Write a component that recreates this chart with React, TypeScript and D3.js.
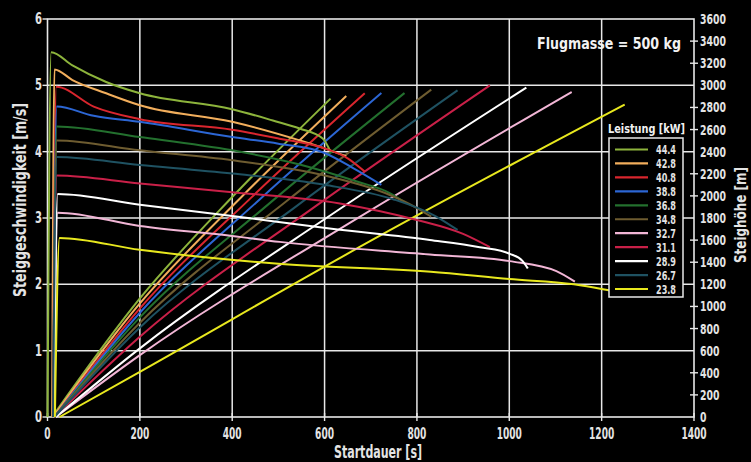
import React, { useEffect } from "react";
import * as d3 from "d3";

// ---- axis ticks ----
const timeTicks = [0, 200, 400, 600, 800, 1000, 1200, 1400];
const climbTicks = [0, 1, 2, 3, 4, 5, 6];
const heightTicks = [0, 200, 400, 600, 800, 1000, 1200, 1400, 1600, 1800, 2000, 2200, 2400, 2600, 2800, 3000, 3200, 3400, 3600];

// ---- legend ----
const legendLabels = ["44.4", "42.8", "40.8", "38.8", "36.8", "34.8", "32.7", "31.1", "28.9", "26.7", "23.8"];
const lineColors = ["#8db43c", "#f2ae5c", "#d9262e", "#2c66d4", "#23702e", "#6e5c30", "#f2b6d6", "#c92048", "#ffffff", "#1f5262", "#e8e81e"];

// ---- climb rate [m/s] vs. time [s] (left axis) ----
const climb444 = [[0, 0], [8, 5.5], [54, 5.3], [127, 5.05], [200, 4.88], [400, 4.64], [488, 4.47], [546, 4.35], [596, 4.2], [613, 4.0]];
const climb428 = [[10, 0], [15, 5.24], [54, 5.08], [127, 4.88], [200, 4.7], [400, 4.45], [546, 4.17], [600, 4.05], [647, 3.93]];
const climb408 = [[12, 0], [19, 4.98], [100, 4.68], [200, 4.49], [400, 4.33], [500, 4.2], [596, 4.06], [650, 3.9], [687, 3.7]];
const climb388 = [[12, 0], [20, 4.68], [100, 4.54], [200, 4.45], [400, 4.22], [500, 4.12], [600, 3.98], [660, 3.76], [723, 3.5]];
const climb368 = [[12, 0], [20, 4.38], [200, 4.22], [400, 4.02], [550, 3.8], [670, 3.55], [740, 3.38], [773, 3.24]];
const climb348 = [[12, 0], [20, 4.17], [200, 4.02], [400, 3.87], [600, 3.64], [740, 3.35], [800, 3.15], [831, 3.02]];
const climb327 = [[14, 0], [22, 3.08], [200, 2.88], [400, 2.73], [503, 2.64], [828, 2.45], [1001, 2.35], [1102, 2.2], [1142, 2.04]];
const climb311 = [[12, 0], [20, 3.64], [200, 3.52], [400, 3.39], [633, 3.22], [800, 2.97], [900, 2.76], [958, 2.56]];
const climb289 = [[14, 0], [22, 3.36], [200, 3.2], [400, 3.03], [611, 2.84], [828, 2.67], [936, 2.56], [1001, 2.46], [1029, 2.35], [1040, 2.24]];
const climb267 = [[12, 0], [20, 3.92], [200, 3.8], [400, 3.67], [600, 3.5], [750, 3.28], [840, 3.03], [888, 2.82]];
const climb238 = [[16, 0], [26, 2.7], [200, 2.52], [500, 2.31], [830, 2.19], [1000, 2.08], [1140, 2.0], [1200, 1.93], [1250, 1.86]];

// ---- climb height [m] vs. time [s] (right axis) ----
const alt444 = [[10, 0], [200, 1072], [400, 1990], [613, 2880]];
const alt428 = [[12, 0], [200, 1027], [420, 1990], [647, 2903]];
const alt408 = [[15, 0], [200, 982], [440, 1980], [687, 2928]];
const alt388 = [[15, 0], [200, 943], [460, 1970], [723, 2930]];
const alt368 = [[15, 0], [200, 901], [480, 1930], [773, 2930]];
const alt348 = [[15, 0], [200, 853], [520, 1960], [831, 2961]];
const alt327 = [[18, 0], [200, 560], [660, 1770], [1135, 2940]];
const alt311 = [[15, 0], [200, 726], [580, 1905], [958, 3000]];
const alt289 = [[18, 0], [200, 621], [620, 1845], [1037, 2979]];
const alt267 = [[15, 0], [200, 810], [540, 1910], [888, 2955]];
const alt238 = [[26, 0], [200, 409], [720, 1640], [1250, 2826]];

const climbSeries = [climb444, climb428, climb408, climb388, climb368, climb348, climb327, climb311, climb289, climb267, climb238];
const altSeries = [alt444, alt428, alt408, alt388, alt368, alt348, alt327, alt311, alt289, alt267, alt238];

const FONT = "'Liberation Sans Narrow','DejaVu Sans Condensed','Roboto Condensed','Arial Narrow',sans-serif";

export default function App() {
  useEffect(() => {
    document.body.style.margin = "0";
    document.body.style.background = "#000";
  }, []);

  const W = 751, H = 462;
  const x = d3.scaleLinear().domain([0, 1400]).range([47.5, 694]);
  const yL = d3.scaleLinear().domain([0, 6]).range([417, 19]);
  const yR = d3.scaleLinear().domain([0, 3600]).range([417, 19]);

  const lineL = d3.line<number[]>().x(d => x(d[0])).y(d => yL(d[1])).curve(d3.curveMonotoneX);
  const lineR = d3.line<number[]>().x(d => x(d[0])).y(d => yR(d[1])).curve(d3.curveMonotoneX);

  const grid = "#e8e8e8";
  const txt = "#e4e4e4";
  const x0 = x(0), x1 = x(1400), yTop = yL(6), yBot = yL(0);

  const legX = 609, legY = 138, legW = 74, legH = 159;
  const legRow0 = 149.5, legStep = 13.95;

  return (
    <svg width={W} height={H} style={{ position: "absolute", left: 0, top: 0, display: "block" }} fontFamily={FONT}>
      <rect x={0} y={0} width={W} height={H} fill="#000" />

      {/* grid */}
      {climbTicks.slice(1, 6).map(v => (
        <line key={"h" + v} x1={x0} x2={x1} y1={yL(v)} y2={yL(v)} stroke={grid} strokeWidth={1.5} />
      ))}
      {timeTicks.slice(1, 7).map(t => (
        <line key={"v" + t} x1={x(t)} x2={x(t)} y1={yTop} y2={yBot} stroke={grid} strokeWidth={1.5} />
      ))}
      {/* frame */}
      <rect x={x0} y={yTop} width={x1 - x0} height={yBot - yTop} fill="none" stroke={grid} strokeWidth={1.6} />

      {/* left ticks */}
      {climbTicks.map(v => (
        <g key={"lt" + v}>
          <line x1={x0 - 5} x2={x0} y1={yL(v)} y2={yL(v)} stroke={grid} strokeWidth={1.4} />
          <text x={42} y={yL(v) + 5} fill={txt} fontSize={15} fontWeight={600} textAnchor="end" textLength={7} lengthAdjust="spacingAndGlyphs">{v}</text>
        </g>
      ))}
      {/* bottom ticks */}
      {timeTicks.map(t => (
        <g key={"bt" + t}>
          <line x1={x(t)} x2={x(t)} y1={yBot - 4} y2={yBot + 4} stroke={grid} strokeWidth={1.4} />
          <text x={x(t)} y={439} fill={txt} fontSize={15} fontWeight={600} textAnchor="middle" textLength={String(t).length * 6.3} lengthAdjust="spacingAndGlyphs">{t}</text>
        </g>
      ))}
      {/* right ticks */}
      {heightTicks.map(h => (
        <g key={"rt" + h}>
          {h % 600 !== 0 && <line x1={x1 - 4} x2={x1 + 4} y1={yR(h)} y2={yR(h)} stroke={grid} strokeWidth={1.4} />}
          <text x={700} y={yR(h) + 5} fill={txt} fontSize={14} fontWeight={600} textAnchor="start" textLength={String(h).length * 6.5} lengthAdjust="spacingAndGlyphs">{h}</text>
        </g>
      ))}

      {/* altitude lines */}
      {altSeries.map((s, i) => (
        <path key={"a" + i} d={lineR(s) || ""} fill="none" stroke={lineColors[i]} strokeWidth={2} />
      ))}
      {/* climb rate curves */}
      {climbSeries.map((s, i) => (
        <path key={"c" + i} d={lineL(s) || ""} fill="none" stroke={lineColors[i]} strokeWidth={2} />
      ))}

      {/* axis titles */}
      <text x={378} y={458} fill={txt} fontSize={17} fontWeight={600} textAnchor="middle" textLength={88} lengthAdjust="spacingAndGlyphs">Startdauer [s]</text>
      <text transform="translate(26,200) rotate(-90)" fill={txt} fontSize={17} fontWeight={600} textAnchor="middle" textLength={194} lengthAdjust="spacingAndGlyphs">Steiggeschwindigkeit [m/s]</text>
      <text transform="translate(746,215) rotate(-90)" fill={txt} fontSize={16} fontWeight="bold" textAnchor="middle" textLength={96} lengthAdjust="spacingAndGlyphs">Steighöhe [m]</text>

      {/* mass note */}
      <text x={537} y={49} fill="#f2f2f2" fontSize={15} fontWeight="bold" textLength={144} lengthAdjust="spacingAndGlyphs">Flugmasse = 500 kg</text>

      {/* legend */}
      <text x={608} y={133} fill="#f2f2f2" fontSize={13} fontWeight="bold" textLength={77} lengthAdjust="spacingAndGlyphs">Leistung [kW]</text>
      <rect x={legX} y={legY} width={legW} height={legH} fill="#000" stroke={grid} strokeWidth={1.5} />
      {legendLabels.map((lab, i) => (
        <g key={"lg" + i}>
          <line x1={615} x2={648} y1={legRow0 + i * legStep} y2={legRow0 + i * legStep} stroke={lineColors[i]} strokeWidth={2.2} />
          <text x={676} y={legRow0 + i * legStep + 4.5} fill={txt} fontSize={13} fontWeight="bold" textAnchor="end" textLength={20} lengthAdjust="spacingAndGlyphs">{lab}</text>
        </g>
      ))}
    </svg>
  );
}
